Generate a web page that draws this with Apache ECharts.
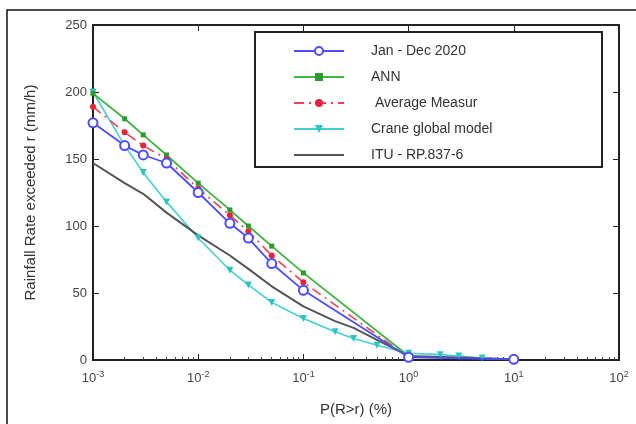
<!DOCTYPE html>
<html>
<head>
<meta charset="utf-8">
<script src="https://cdn.jsdelivr.net/npm/echarts@6/dist/echarts.min.js"></script>
<style>
  html, body { margin: 0; padding: 0; background: #fff; }
  #chart { width: 636px; height: 424px; }
</style>
</head>
<body>
<div id="chart"></div>
<script>
// exceedance probabilities (%)
const pMeas = [0.001, 0.002, 0.003, 0.005, 0.01, 0.02, 0.03, 0.05, 0.1, 1, 10];
const pCrane = [0.001, 0.002, 0.003, 0.005, 0.01, 0.02, 0.03, 0.05, 0.1, 0.2, 0.3, 0.5, 1, 2, 3, 5, 10];
const pItu = [0.001, 0.002, 0.003, 0.005, 0.01, 0.02, 0.03, 0.05, 0.1, 0.2, 0.3, 0.5, 1, 10];

// rain rate (mm/h)
const jan2020 = [177, 160, 153, 147, 125, 102, 91, 72, 52, 2, 0.5];
const ann = [199, 180, 168, 153, 132, 112, 100, 85, 65, 3];
const avgMeas = [189, 170, 160, 150, 128, 108, 96, 78, 58, 2];
const crane = [200, 160, 140, 118, 91, 67, 56, 43, 31, 21, 16, 11, 5, 4, 3, 1.5, 0.5];
const itu = [147, 132, 124, 110, 93, 78, 68, 55, 40, 29, 24, 15, 3, 0.5];

const names = ['Jan - Dec 2020', 'ANN', ' Average Measur', 'Crane global model', 'ITU - RP.837-6'];
const yTicks = [0, 50, 100, 150, 200, 250];
const minorX = [];
[0.001, 0.01, 0.1, 1, 10].forEach(d => { for (let k = 2; k <= 9; k++) minorX.push(+(d * k).toPrecision(3)); });

const pairs = (xs, ys) => ys.map((y, i) => [xs[i], y]);
const font = 'Liberation Sans, Arial, sans-serif';

const chart = echarts.init(document.getElementById('chart'));
const logAxis = {
    type: 'log', logBase: 10, min: 0.001, max: 100, interval: 1,
    splitLine: { show: false }
};
chart.setOption({
    animation: false,
    grid: { left: 93, right: 17, top: 25, bottom: 64 },
    legend: {
        orient: 'vertical', left: 288, top: 39,
        itemWidth: 50, itemHeight: 10, itemGap: 12,
        textStyle: { fontFamily: font, fontSize: 14, color: '#333', padding: [0, 0, 0, 22] },
        data: names.slice(0, 4).map(n => ({ name: n })).concat([
            { name: names[4], icon: 'path://M0,0 H50 V2 H0 Z' }
        ])
    },
    xAxis: [
        Object.assign({}, logAxis, {
            position: 'bottom',
            axisLine: { lineStyle: { color: '#222', width: 2 } },
            axisTick: { inside: true, length: 6, lineStyle: { color: '#222' } },
            axisLabel: {
                margin: 10, fontFamily: font, color: '#444',
                formatter: v => '{b|10}{s|' + Math.round(Math.log10(v)) + '}',
                rich: {
                    b: { fontSize: 13, fontFamily: font, color: '#444' },
                    s: { fontSize: 9, fontFamily: font, color: '#444', verticalAlign: 'top', padding: [0, 0, 8, 0] }
                }
            },
            name: 'P(R>r) (%)', nameLocation: 'middle', nameGap: 42,
            nameTextStyle: { fontFamily: font, fontSize: 15, color: '#333' }
        }),
        Object.assign({}, logAxis, {
            position: 'bottom',
            axisLine: { show: false },
            axisLabel: { show: false },
            axisTick: { inside: true, length: 3, customValues: minorX, lineStyle: { color: '#444' } }
        }),
        Object.assign({}, logAxis, {
            position: 'top',
            axisLine: { lineStyle: { color: '#222', width: 2 } },
            axisLabel: { show: false },
            axisTick: { inside: true, length: 6, lineStyle: { color: '#222' } }
        })
    ],
    yAxis: [
        {
            type: 'value', min: 0, max: 250, interval: 50,
            splitLine: { show: false },
            axisLine: { show: true, lineStyle: { color: '#222', width: 2 } },
            axisTick: { show: true, inside: true, length: 6, lineStyle: { color: '#222' } },
            axisLabel: { fontFamily: font, fontSize: 13, color: '#444', margin: 6,
                customValues: yTicks },
            name: 'Rainfall Rate exceeded r (mm/h)', nameLocation: 'middle', nameGap: 55,
            nameTextStyle: { fontFamily: font, fontSize: 15, color: '#333' }
        },
        {
            type: 'value', min: 0, max: 250, interval: 50, position: 'right',
            splitLine: { show: false },
            axisLine: { show: true, lineStyle: { color: '#222', width: 2 } },
            axisTick: { show: true, inside: true, length: 6, lineStyle: { color: '#222' } },
            axisLabel: { show: false }
        }
    ],
    graphic: [
        { type: 'polyline', shape: { points: [[7, 424], [7, 10], [636, 10]] },
          style: { stroke: '#111', lineWidth: 1.5, fill: null } },
        { type: 'rect', shape: { x: 255, y: 32, width: 347, height: 135 },
          style: { stroke: '#222', lineWidth: 2, fill: '#fff' }, z: 3 }
    ],
    series: [
        {
            name: names[0], type: 'line', data: pairs(pMeas, jan2020), z: 6,
            symbol: 'emptyCircle', symbolSize: 9,
            itemStyle: { color: '#4d4dff', borderWidth: 1.5 },
            lineStyle: { color: '#4d4dff', width: 1.8 }
        },
        {
            name: names[1], type: 'line', data: pairs(pMeas, ann), z: 5,
            symbol: 'rect', symbolSize: 5,
            itemStyle: { color: '#2e9a2e' },
            lineStyle: { color: '#3fb33f', width: 1.8 }
        },
        {
            name: names[2], type: 'line', data: pairs(pMeas, avgMeas), z: 5,
            symbol: 'circle', symbolSize: 6,
            itemStyle: { color: '#e8203a' },
            lineStyle: { color: '#f04055', width: 1.6, type: [10, 5, 2, 5] }
        },
        {
            name: names[3], type: 'line', data: pairs(pCrane, crane), z: 4,
            symbol: 'triangle', symbolRotate: 180, symbolSize: 7,
            itemStyle: { color: '#2fc4c4' },
            lineStyle: { color: '#45d0d0', width: 1.6 }
        },
        {
            name: names[4], type: 'line', data: pairs(pItu, itu), z: 4,
            symbol: 'none',
            itemStyle: { color: '#555' },
            lineStyle: { color: '#555', width: 2 }
        }
    ]
});
</script>
</body>
</html>
